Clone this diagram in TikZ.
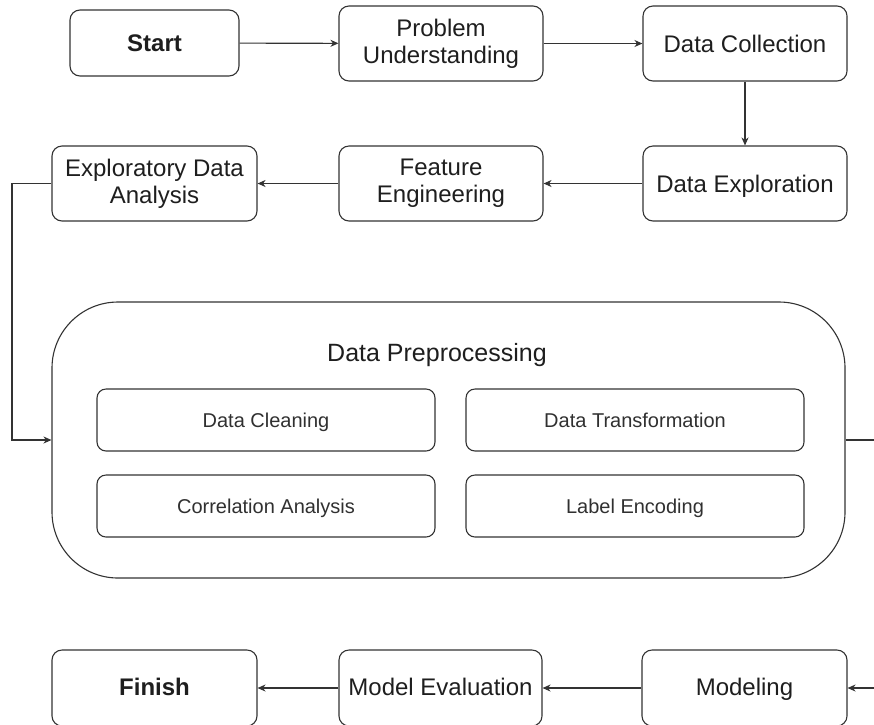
\documentclass[tikz,border=0pt]{standalone}
\usepackage{fontspec}
\setmainfont{Liberation Sans}
\usetikzlibrary{arrows.meta,positioning}

\definecolor{edge}{HTML}{333333}
\definecolor{ink}{HTML}{1E1E1E}
\definecolor{subink}{HTML}{303030}

\tikzset{
  stepbox/.style={draw=edge, line width=1.1pt, rounded corners=10pt,
    align=center, text=ink, inner sep=0pt,
    font=\fontsize{24}{27}\selectfont},
  oneline/.style={text height=17.6pt, text depth=0pt},
  lowline/.style={text height=15pt, text depth=0pt},
  subbox/.style={draw=edge, line width=1.1pt, rounded corners=9pt,
    minimum width=338pt, minimum height=62pt, inner sep=0pt,
    text height=15.4pt, text depth=0pt,
    text=subink, font=\fontsize{20}{24}\selectfont},
  groupbox/.style={draw=edge, line width=1.1pt, rounded corners=66pt,
    minimum width=793pt, minimum height=276pt, inner sep=0pt},
  flow/.style={draw=edge, line width=1.1pt,
    -{Stealth[length=8pt,width=7pt,inset=2.5pt]}},
}

\begin{document}
\begin{tikzpicture}[x=1pt,y=-1pt]
  \useasboundingbox (0,0) rectangle (874,724);
  \clip (0,0) rectangle (874,724);

  % top row
  \node[stepbox, oneline, minimum width=169pt, minimum height=66pt, font=\fontsize{24}{27}\selectfont\bfseries]
    (start) at (154.5,43) {Start};
  \node[stepbox, minimum width=204pt, minimum height=75pt]
    (problem) at (441,43.5) {Problem\\Understanding};
  \node[stepbox, oneline, minimum width=204pt, minimum height=75pt]
    (collect) at (745,43.5) {Data Collection};

  % second row
  \node[stepbox, minimum width=205pt, minimum height=75pt]
    (eda) at (154.5,183.5) {Exploratory Data\\Analysis};
  \node[stepbox, minimum width=204pt, minimum height=75pt]
    (feature) at (441,183.5) {Feature\\Engineering};
  \node[stepbox, oneline, minimum width=204pt, minimum height=75pt]
    (explore) at (745,183.5) {Data Exploration};

  % preprocessing group
  \node[groupbox] (prep) at (448.5,440) {};
  \node[anchor=base, text=ink, inner sep=0pt, font=\fontsize{25}{30}\selectfont]
    (preptitle) at (437,361) {Data Preprocessing};
  \node[subbox] (clean) at (266,420) {Data Cleaning};
  \node[subbox] (transform) at (635,420) {Data Transformation};
  \node[subbox] (corr) at (266,506) {Correlation Analysis};
  \node[subbox] (encode) at (635,506) {Label Encoding};

  % bottom row
  \node[stepbox, lowline, minimum width=205pt, minimum height=76pt, font=\fontsize{24}{27}\selectfont\bfseries]
    (finish) at (154.5,688) {Finish};
  \node[stepbox, lowline, minimum width=203pt, minimum height=76pt]
    (evaluate) at (440.5,688) {Model Evaluation};
  \node[stepbox, lowline, minimum width=205pt, minimum height=76pt]
    (model) at (744.5,688) {Modeling};

  % connectors
  \draw[flow] (start) -- (problem);
  \draw[flow] (problem) -- (collect);
  \draw[flow] (collect) -- (explore);
  \draw[flow] (explore) -- (feature);
  \draw[flow] (feature) -- (eda);

  \coordinate (leftrail) at (12,183.5);
  \draw[flow] (eda.west) -- (leftrail) |- (prep.west);

  \coordinate (rightrail) at (900,440);
  \draw[flow] (prep.east) -- (rightrail) |- (model.east);

  \draw[flow] (model) -- (evaluate);
  \draw[flow] (evaluate) -- (finish);
\end{tikzpicture}
\end{document}
